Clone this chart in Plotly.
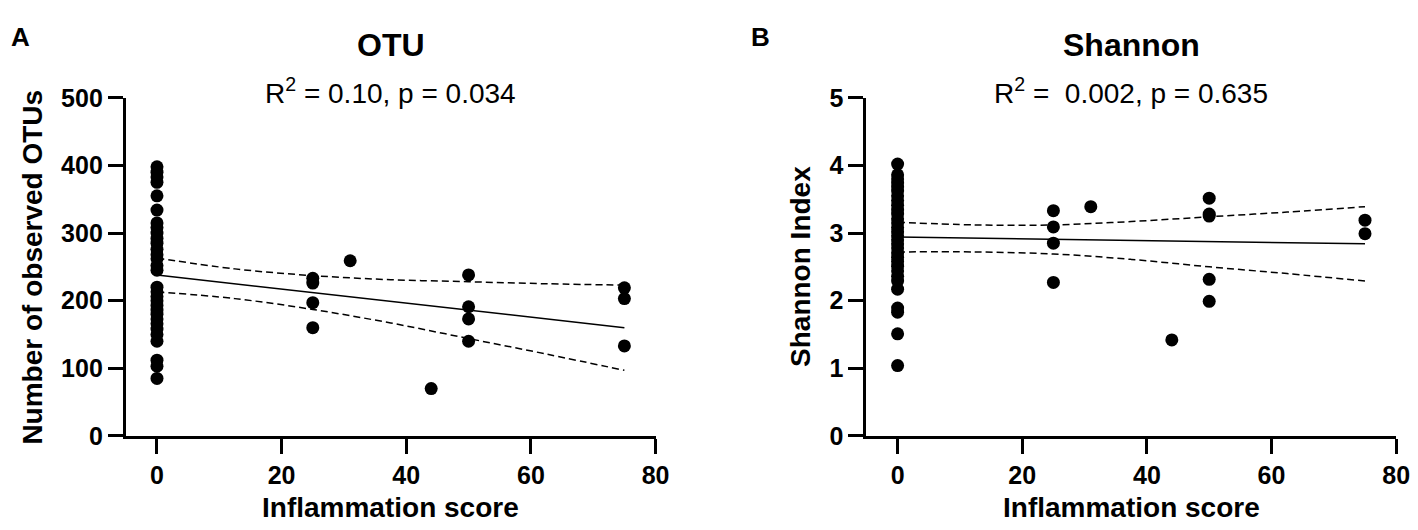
import plotly.graph_objects as go

# OTU panel (A)
otu_x0_vals = [398, 390, 383, 375, 355, 334, 315, 308, 300, 292, 285, 276, 268, 262, 252, 245,
               220, 213, 206, 200, 193, 186, 180, 173, 166, 158, 150, 140, 112, 103, 85]
otu_x_other = [25, 25, 25, 25, 31, 44, 50, 50, 50, 50, 75, 75, 75]
otu_y_other = [233, 226, 197, 160, 259, 70, 238, 191, 173, 140, 219, 203, 133]

# Shannon panel (B)
sh_x0_vals = [4.02, 3.86, 3.80, 3.74, 3.68, 3.62, 3.55, 3.48, 3.41, 3.34, 3.28, 3.21, 3.15, 3.08,
              3.02, 2.96, 2.90, 2.84, 2.78, 2.71, 2.64, 2.58, 2.51, 2.44, 2.36, 2.29, 2.17, 1.89,
              1.83, 1.51, 1.04]
sh_x_other = [25, 25, 25, 25, 31, 44, 50, 50, 50, 50, 50, 75, 75]
sh_y_other = [3.33, 3.09, 2.85, 2.27, 3.39, 1.42, 3.515, 3.28, 3.25, 2.315, 1.99, 3.19, 2.99]

# regression line + 95% band
fit_x = [0, 75]
otu_fit = [238, 160]
sh_fit = [2.94, 2.84]
band_x = [0, 12.5, 25, 37.5, 50, 62.5, 75]
otu_upper = [263, 247, 237, 231, 228, 225, 223]
otu_lower = [213, 203, 187, 167, 144, 121, 97]
sh_upper = [3.16, 3.12, 3.12, 3.17, 3.24, 3.31, 3.39]
sh_lower = [2.72, 2.72, 2.69, 2.61, 2.50, 2.40, 2.29]

FONT = "Arial, Liberation Sans, sans-serif"
W, H = 1418, 530

fig = go.Figure()

panels = [
    ("x", "y", otu_x0_vals, otu_x_other, otu_y_other, otu_fit, otu_upper, otu_lower),
    ("x2", "y2", sh_x0_vals, sh_x_other, sh_y_other, sh_fit, sh_upper, sh_lower),
]
for xa, ya, x0v, xo, yo, fit, up, lo in panels:
    xs = [0] * len(x0v) + xo
    ys = x0v + yo
    fig.add_trace(go.Scatter(x=xs, y=ys, mode="markers", xaxis=xa, yaxis=ya,
                             marker=dict(size=13, color="black"), showlegend=False))
    fig.add_trace(go.Scatter(x=fit_x, y=fit, mode="lines", xaxis=xa, yaxis=ya,
                             line=dict(color="black", width=1.5), showlegend=False))
    for band in (up, lo):
        fig.add_trace(go.Scatter(x=band_x, y=band, mode="lines", xaxis=xa, yaxis=ya,
                                 line=dict(color="black", width=1.5, dash="7px,4px", shape="spline"),
                                 showlegend=False))

xdom1 = [119 / W, 654 / W]
xdom2 = [867 / W, 1402 / W]
ydom = [1 - 437 / H, 1 - 80 / H]

axis_common = dict(showline=True, linecolor="black", linewidth=3, ticks="outside",
                   ticklen=15, tickwidth=3, tickcolor="black", showgrid=False, zeroline=False,
                   tickfont=dict(family=FONT, size=25, color="black", weight="bold"))

fig.update_layout(
    width=W, height=H, margin=dict(l=0, r=0, t=0, b=0),
    plot_bgcolor="white", paper_bgcolor="white",
    xaxis=dict(domain=xdom1, range=[-5, 80], tickvals=[0, 20, 40, 60, 80], anchor="y", **axis_common),
    yaxis=dict(domain=ydom, range=[0, 500], tickvals=[0, 100, 200, 300, 400, 500], anchor="x", **axis_common),
    xaxis2=dict(domain=xdom2, range=[-5, 80], tickvals=[0, 20, 40, 60, 80], anchor="y2", **axis_common),
    yaxis2=dict(domain=ydom, range=[0, 5], tickvals=[0, 1, 2, 3, 4, 5], anchor="x2", **axis_common),
)

c1 = (xdom1[0] + xdom1[1]) / 2
c2 = (xdom2[0] + xdom2[1]) / 2
ymid = (ydom[0] + ydom[1]) / 2

def note(text, x, y, size, bold=True, angle=0, xanchor="center"):
    fig.add_annotation(text=text, x=x, y=y, xref="paper", yref="paper", showarrow=False,
                       xanchor=xanchor, yanchor="middle", textangle=angle,
                       font=dict(family=FONT, size=size, color="black",
                                 weight="bold" if bold else "normal"))

note("A", 1 / W, 1 - 16 / H, 26, xanchor="left")
note("B", 748 / W, 1 - 16 / H, 26, xanchor="left")
note("OTU", c1, 1 - 24 / H, 32)
note("Shannon", c2, 1 - 24 / H, 32)
note("R<sup>2</sup> = 0.10, p = 0.034", c1, 1 - 73 / H, 28, bold=False)
note("R<sup>2</sup> =&nbsp; 0.002, p = 0.635", c2, 1 - 73 / H, 28, bold=False)
note("Inflammation score", c1, 1 - 513 / H, 28)
note("Inflammation score", c2, 1 - 513 / H, 28)
note("Number of observed OTUs", 25 / W, ymid, 28, angle=-90)
note("Shannon Index", 801 / W, ymid, 28, angle=-90)

fig.write_html("out.html")
